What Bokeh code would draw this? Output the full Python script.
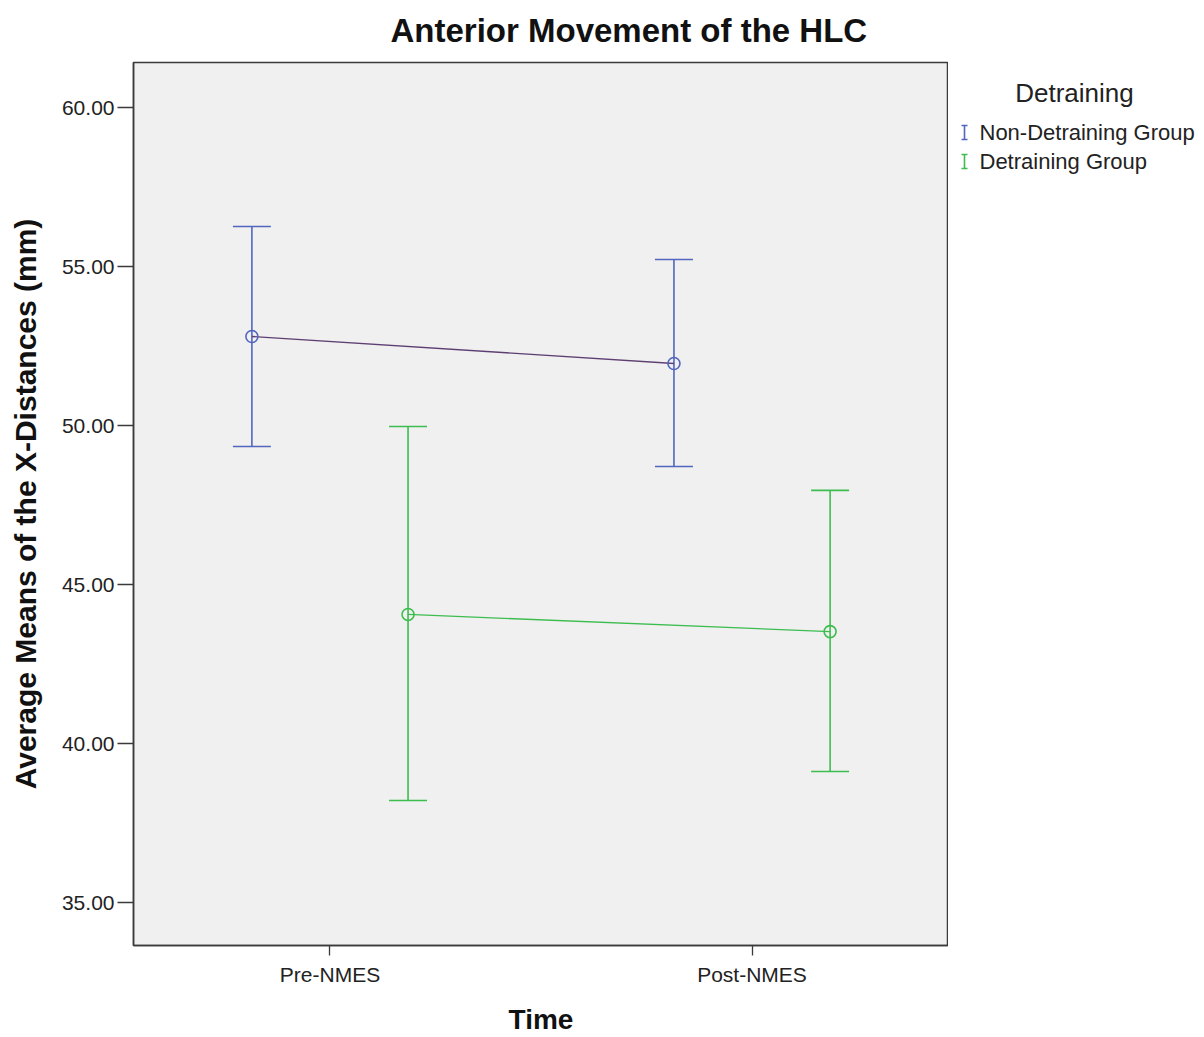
from bokeh.plotting import figure
from bokeh.models import (ColumnDataSource, FactorRange, Range1d, Whisker, TeeHead,
                          FixedTicker, NumeralTickFormatter)
from bokeh.layouts import row
from bokeh.core.properties import value
from bokeh.transform import dodge
from bokeh.embed import file_html
from bokeh.resources import INLINE

times = ["Pre-NMES", "Post-NMES"]
non_mean = [52.80, 51.95]
non_upper = [56.26, 55.22]
non_lower = [49.34, 48.71]
det_mean = [44.06, 43.52]
det_upper = [49.97, 47.96]
det_lower = [38.21, 39.12]
y_ticks = [35, 40, 45, 50, 55, 60]
group_names = ["Non-Detraining Group", "Detraining Group"]
legend_title = "Detraining"

BLUE = "#5266bf"
GREEN = "#3dbd4f"
PURPLE = "#5e3f72"
FONT = "Liberation Sans"

p = figure(width=948, height=1037, output_backend="svg", toolbar_location=None,
           x_range=FactorRange(factors=times, range_padding=-0.0345),
           y_range=Range1d(33.65, 61.415),
           min_border_left=133, min_border_right=0, min_border_top=62, min_border_bottom=92)
p.background_fill_color = "#f0f0f0"
p.border_fill_color = "white"
p.outline_line_color = "#3a3a3a"
p.outline_line_width = 1.5
p.grid.visible = False

p.title.text = "Anterior Movement of the HLC"
p.title.align = "left"
p.title.offset = 257
p.title.text_font = FONT
p.title.text_font_style = "bold"
p.title.text_font_size = "33px"
p.title.text_color = "#111111"
p.title.standoff = 23
p.title.vertical_align = "top"

src_non = ColumnDataSource(dict(x=times, m=non_mean, u=non_upper, l=non_lower))
src_det = ColumnDataSource(dict(x=times, m=det_mean, u=det_upper, l=det_lower))

off = 0.185
for src, shift, col, lcol in [(src_non, -off, BLUE, PURPLE), (src_det, off, GREEN, GREEN)]:
    xx = dodge("x", shift, range=p.x_range)
    p.line(x=xx, y="m", source=src, line_color=lcol, line_width=1.3)
    w = Whisker(base=xx, upper="u", lower="l", source=src, dimension="height",
                line_color=col, line_width=1.6,
                upper_head=TeeHead(size=38, line_color=col, line_width=1.6),
                lower_head=TeeHead(size=38, line_color=col, line_width=1.6))
    p.add_layout(w)
    p.scatter(x=xx, y="m", source=src, marker="circle", size=12, fill_color=None,
              line_color=col, line_width=1.6)

for ax in [p.xaxis[0], p.yaxis[0]]:
    ax.axis_line_color = "#3a3a3a"
    ax.axis_line_width = 1.5
    ax.major_tick_line_color = "#3a3a3a"
    ax.major_tick_line_width = 1.3
    ax.major_tick_in = 0
    ax.minor_tick_line_color = None
    ax.major_label_text_font = FONT
    ax.major_label_text_font_size = "21px"
    ax.major_label_text_color = "#222222"
    ax.axis_label_text_font = FONT
    ax.axis_label_text_font_style = "bold"
    ax.axis_label_text_color = "#111111"

p.yaxis.ticker = FixedTicker(ticks=y_ticks)
p.yaxis.formatter = NumeralTickFormatter(format="0.00")
p.yaxis.major_tick_out = 16
p.yaxis.major_label_standoff = 3
p.yaxis.axis_label = "Average Means of the X-Distances (mm)"
p.yaxis.axis_label_text_font_size = "30px"
p.yaxis.axis_label_standoff = 17
p.xaxis.major_tick_out = 10
p.xaxis.major_label_standoff = 7
p.xaxis.axis_label = "Time"
p.xaxis.axis_label_text_font_size = "28px"
p.xaxis.axis_label_standoff = 15

# legend panel (its frame is aligned with the chart frame, top at y=62)
leg = figure(frame_width=256, frame_height=883, output_backend="svg", toolbar_location=None,
             x_range=Range1d(0, 256), y_range=Range1d(883, 0), title=None,
             min_border=0, x_axis_type=None, y_axis_type=None)
leg.outline_line_color = None
leg.grid.visible = False
leg.background_fill_color = "white"
leg.border_fill_color = "white"

leg.text(x=[126], y=[30], text=[legend_title], text_font=value(FONT), text_font_size="26px",
         text_align="center", text_baseline="middle", text_color="#222222")
item_y = [70, 99]
leg.text(x=[31, 31], y=item_y, text=group_names, text_font=value(FONT), text_font_size="22px",
         text_align="left", text_baseline="middle", text_color="#222222")
cols = [BLUE, GREEN]
leg.segment(x0=[16, 16], y0=[yy - 7 for yy in item_y], x1=[16, 16], y1=[yy + 7 for yy in item_y],
            line_color=cols, line_width=1.6)
for dy in (-7, 7):
    leg.segment(x0=[13, 13], y0=[yy + dy for yy in item_y], x1=[19, 19], y1=[yy + dy for yy in item_y],
                line_color=cols, line_width=1.6)

layout = row(p, leg)
open("out.html", "w").write(file_html(layout, INLINE))
